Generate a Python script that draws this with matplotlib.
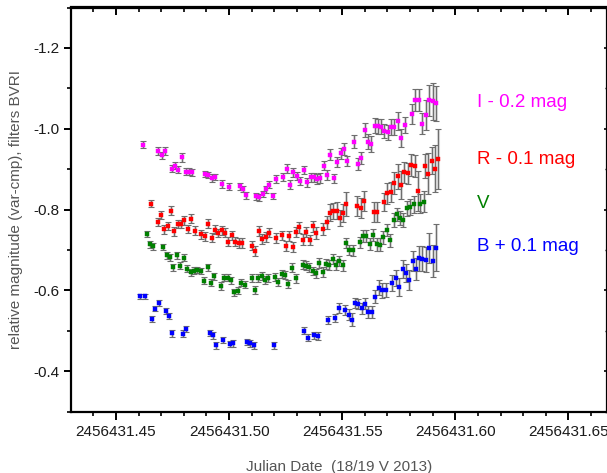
import matplotlib
matplotlib.use("Agg")
import matplotlib.pyplot as plt
from matplotlib.ticker import MultipleLocator, FormatStrFormatter, FixedLocator
import numpy as np

plt.rcParams['font.family'] = ['Liberation Sans', 'DejaVu Sans']
plt.rcParams['axes.unicode_minus'] = False

JD0 = 2456431.0

# ---------------- data ----------------
# I - 0.2 mag (magenta)
t_I = [0.4621, 0.4687, 0.4702, 0.4717, 0.4746, 0.4761, 0.4776, 0.4792, 0.4808, 0.4823,
       0.4838, 0.4894, 0.4908, 0.4925, 0.4939, 0.4970, 0.5000, 0.5046, 0.5061, 0.5075,
       0.5119, 0.5134, 0.5149, 0.5164, 0.5178, 0.5195, 0.5209, 0.5240, 0.5255, 0.5270,
       0.5284, 0.5300, 0.5314, 0.5331, 0.5345, 0.5360, 0.5375, 0.5389, 0.5404, 0.5419,
       0.5434, 0.5448, 0.5463, 0.5479, 0.5494, 0.5509, 0.5523, 0.5553, 0.5568, 0.5584,
       0.5599, 0.5614, 0.5628, 0.5643, 0.5658, 0.5673, 0.5687, 0.5702, 0.5717, 0.5731,
       0.5746, 0.5762, 0.5777, 0.5808, 0.5823, 0.5838, 0.5854, 0.5869, 0.5885, 0.5900,
       0.5913]
m_I = [-0.961, -0.945, -0.934, -0.945, -0.901, -0.909, -0.899, -0.929, -0.894, -0.894,
       -0.892, -0.888, -0.886, -0.878, -0.880, -0.863, -0.857, -0.858, -0.851, -0.835,
       -0.833, -0.830, -0.838, -0.850, -0.862, -0.834, -0.876, -0.881, -0.901, -0.862,
       -0.892, -0.884, -0.871, -0.898, -0.868, -0.880, -0.880, -0.875, -0.878, -0.909,
       -0.886, -0.936, -0.877, -0.918, -0.939, -0.950, -0.920, -0.968, -0.912, -0.928,
       -0.997, -0.968, -0.962, -1.008, -1.006, -1.005, -0.995, -0.991, -1.005, -1.004,
       -1.020, -0.977, -1.010, -1.037, -1.071, -1.071, -1.013, -1.034, -1.070, -1.068,
       -1.063]
e_I = [0.008, 0.009, 0.008, 0.009, 0.009, 0.008, 0.009, 0.010, 0.008, 0.008,
       0.008, 0.008, 0.008, 0.009, 0.008, 0.009, 0.009, 0.009, 0.008, 0.009,
       0.009, 0.009, 0.008, 0.009, 0.009, 0.008, 0.010, 0.010, 0.011, 0.010,
       0.011, 0.010, 0.010, 0.011, 0.011, 0.011, 0.011, 0.012, 0.012, 0.012,
       0.012, 0.013, 0.012, 0.013, 0.013, 0.014, 0.013, 0.016, 0.015, 0.015,
       0.018, 0.018, 0.019, 0.019, 0.019, 0.019, 0.018, 0.018, 0.020, 0.020,
       0.022, 0.022, 0.020, 0.025, 0.027, 0.027, 0.027, 0.037, 0.039, 0.046,
       0.044]

# R - 0.1 mag (red)
t_R = [0.4654, 0.4684, 0.4699, 0.4714, 0.4729, 0.4743, 0.4758, 0.4773, 0.4788, 0.4802,
       0.4817, 0.4833, 0.4848, 0.4877, 0.4892, 0.4908, 0.4923, 0.4938, 0.4953, 0.4968,
       0.4982, 0.4997, 0.5012, 0.5027, 0.5043, 0.5058, 0.5102, 0.5116, 0.5131, 0.5146,
       0.5162, 0.5177, 0.5207, 0.5236, 0.5251, 0.5266, 0.5282, 0.5296, 0.5311, 0.5326,
       0.5341, 0.5357, 0.5372, 0.5386, 0.5416, 0.5431, 0.5446, 0.5460, 0.5475, 0.5490,
       0.5504, 0.5519, 0.5565, 0.5581, 0.5596, 0.5640, 0.5655, 0.5686, 0.5700, 0.5716,
       0.5730, 0.5745, 0.5760, 0.5774, 0.5789, 0.5805, 0.5820, 0.5835, 0.5866, 0.5881,
       0.5895, 0.5910, 0.5925]
m_R = [-0.815, -0.769, -0.787, -0.751, -0.760, -0.797, -0.746, -0.765, -0.764, -0.774,
       -0.752, -0.777, -0.748, -0.739, -0.734, -0.765, -0.730, -0.750, -0.742, -0.749,
       -0.743, -0.721, -0.736, -0.721, -0.717, -0.717, -0.711, -0.698, -0.747, -0.728,
       -0.732, -0.743, -0.729, -0.736, -0.710, -0.735, -0.708, -0.744, -0.756, -0.726,
       -0.744, -0.725, -0.759, -0.742, -0.751, -0.769, -0.792, -0.796, -0.797, -0.779,
       -0.791, -0.814, -0.808, -0.803, -0.821, -0.794, -0.795, -0.819, -0.840, -0.844,
       -0.865, -0.882, -0.860, -0.892, -0.890, -0.910, -0.908, -0.846, -0.908, -0.889,
       -0.921, -0.901, -0.925]
e_R = [0.009, 0.010, 0.010, 0.011, 0.010, 0.011, 0.011, 0.010, 0.010, 0.011,
       0.011, 0.011, 0.011, 0.011, 0.011, 0.011, 0.011, 0.011, 0.011, 0.011,
       0.011, 0.011, 0.012, 0.012, 0.012, 0.012, 0.012, 0.012, 0.012, 0.012,
       0.012, 0.012, 0.012, 0.012, 0.012, 0.012, 0.012, 0.013, 0.013, 0.013,
       0.013, 0.013, 0.014, 0.014, 0.015, 0.016, 0.021, 0.020, 0.021, 0.020,
       0.022, 0.029, 0.025, 0.025, 0.025, 0.025, 0.025, 0.023, 0.025, 0.025,
       0.027, 0.030, 0.035, 0.026, 0.026, 0.027, 0.027, 0.050, 0.029, 0.050,
       0.033, 0.058, 0.074]

# V (green)
t_V = [0.4636, 0.4650, 0.4665, 0.4709, 0.4725, 0.4740, 0.4754, 0.4769, 0.4785, 0.4800,
       0.4815, 0.4830, 0.4844, 0.4859, 0.4875, 0.4891, 0.4906, 0.4921, 0.4935, 0.4965,
       0.4979, 0.4994, 0.5009, 0.5023, 0.5038, 0.5054, 0.5069, 0.5100, 0.5114, 0.5129,
       0.5145, 0.5159, 0.5174, 0.5204, 0.5218, 0.5233, 0.5248, 0.5262, 0.5280, 0.5294,
       0.5325, 0.5341, 0.5355, 0.5370, 0.5384, 0.5399, 0.5414, 0.5428, 0.5443, 0.5458,
       0.5473, 0.5488, 0.5502, 0.5517, 0.5532, 0.5547, 0.5577, 0.5592, 0.5606, 0.5623,
       0.5637, 0.5652, 0.5667, 0.5681, 0.5696, 0.5712, 0.5727, 0.5742, 0.5757, 0.5771,
       0.5787, 0.5802, 0.5816, 0.5845, 0.5861]
m_V = [-0.739, -0.714, -0.709, -0.708, -0.687, -0.682, -0.657, -0.687, -0.661, -0.681,
       -0.654, -0.645, -0.649, -0.650, -0.648, -0.624, -0.657, -0.619, -0.635, -0.611,
       -0.632, -0.632, -0.625, -0.595, -0.599, -0.619, -0.614, -0.631, -0.600, -0.630,
       -0.635, -0.626, -0.630, -0.633, -0.620, -0.641, -0.639, -0.616, -0.656, -0.630,
       -0.664, -0.661, -0.657, -0.648, -0.642, -0.668, -0.646, -0.666, -0.663, -0.678,
       -0.663, -0.673, -0.662, -0.717, -0.700, -0.699, -0.719, -0.735, -0.735, -0.715,
       -0.738, -0.714, -0.713, -0.731, -0.749, -0.724, -0.774, -0.788, -0.779, -0.774,
       -0.803, -0.807, -0.813, -0.815, -0.820]
e_V = [0.007, 0.008, 0.008, 0.008, 0.008, 0.008, 0.009, 0.008, 0.009, 0.008,
       0.009, 0.009, 0.008, 0.008, 0.008, 0.009, 0.009, 0.009, 0.009, 0.009,
       0.009, 0.009, 0.009, 0.009, 0.009, 0.009, 0.009, 0.009, 0.010, 0.010,
       0.010, 0.010, 0.010, 0.010, 0.010, 0.010, 0.010, 0.010, 0.011, 0.011,
       0.011, 0.011, 0.011, 0.011, 0.012, 0.012, 0.012, 0.012, 0.012, 0.013,
       0.013, 0.013, 0.013, 0.012, 0.013, 0.013, 0.014, 0.015, 0.015, 0.015,
       0.015, 0.016, 0.016, 0.016, 0.015, 0.016, 0.017, 0.017, 0.018, 0.018,
       0.019, 0.020, 0.021, 0.023, 0.027]

# B + 0.1 mag (blue)
t_B = [0.4606, 0.4628, 0.4659, 0.4674, 0.4689, 0.4720, 0.4734, 0.4749, 0.4795, 0.4810,
       0.4915, 0.4929, 0.4944, 0.4975, 0.5004, 0.5019, 0.5078, 0.5093, 0.5108, 0.5199,
       0.5333, 0.5348, 0.5377, 0.5392, 0.5438, 0.5469, 0.5484, 0.5513, 0.5528, 0.5543,
       0.5558, 0.5572, 0.5587, 0.5602, 0.5616, 0.5631, 0.5647, 0.5662, 0.5677, 0.5692,
       0.5721, 0.5736, 0.5751, 0.5767, 0.5782, 0.5797, 0.5811, 0.5826, 0.5841, 0.5855,
       0.5870, 0.5885, 0.5901, 0.5916]
m_B = [-0.586, -0.586, -0.530, -0.555, -0.569, -0.549, -0.536, -0.494, -0.493, -0.504,
       -0.495, -0.489, -0.464, -0.478, -0.468, -0.469, -0.473, -0.469, -0.464, -0.464,
       -0.500, -0.483, -0.489, -0.487, -0.527, -0.532, -0.556, -0.551, -0.540, -0.527,
       -0.569, -0.566, -0.556, -0.567, -0.546, -0.547, -0.584, -0.607, -0.600, -0.601,
       -0.618, -0.631, -0.608, -0.653, -0.643, -0.626, -0.673, -0.653, -0.680, -0.679,
       -0.676, -0.706, -0.673, -0.706]
e_B = [0.006, 0.006, 0.007, 0.007, 0.007, 0.007, 0.007, 0.008, 0.008, 0.008,
       0.008, 0.008, 0.008, 0.008, 0.008, 0.008, 0.008, 0.008, 0.008, 0.008,
       0.009, 0.009, 0.009, 0.009, 0.010, 0.010, 0.012, 0.012, 0.013, 0.016,
       0.012, 0.013, 0.014, 0.014, 0.015, 0.015, 0.016, 0.019, 0.018, 0.018,
       0.019, 0.020, 0.022, 0.022, 0.023, 0.024, 0.025, 0.028, 0.031, 0.031,
       0.031, 0.037, 0.040, 0.058]

series_labels = ["I - 0.2 mag", "R - 0.1 mag", "V", "B + 0.1 mag"]
series_colors = ["#ff00ff", "#ff0000", "#008000", "#0000ff"]
label_y = [-1.064, -0.923, -0.816, -0.708]
label_x = 0.6097

xticks_major = [2456431.45, 2456431.50, 2456431.55, 2456431.60, 2456431.65]
yticks_major = [-1.2, -1.0, -0.8, -0.6, -0.4]
x_limits = (2456431.4301, 2456431.6673)
y_limits = (-0.30, -1.30)

# ---------------- plot ----------------
fig = plt.figure(figsize=(6.07, 4.73), dpi=100)
ax = fig.add_axes([71/607, 1 - 411.7/473, (607.5 - 71)/607, (411.7 - 7.5)/473])

data = [(t_I, m_I, e_I), (t_R, m_R, e_R), (t_V, m_V, e_V), (t_B, m_B, e_B)]
for (t, m, e), col in zip(data, series_colors):
    x = JD0 + np.asarray(t)
    ax.errorbar(x, m, yerr=e, fmt='none', ecolor='#d9d9d9', elinewidth=2.2,
                capsize=0, zorder=1)
    ax.errorbar(x, m, yerr=e, fmt='none', ecolor='#6e6e6e', elinewidth=0.8,
                capsize=2.2, capthick=0.8, zorder=2)
    ax.plot(x, m, linestyle='none', marker='s', markersize=2.8,
            markerfacecolor=col, markeredgecolor=col, markeredgewidth=0.3, zorder=3)

for lab, col, yy in zip(series_labels, series_colors, label_y):
    ax.text(JD0 + label_x, yy, lab, color=col, fontsize=13.5, ha='left', va='center')

ax.set_xlim(*x_limits)
ax.set_ylim(*y_limits)

ax.xaxis.set_major_locator(FixedLocator(xticks_major))
ax.xaxis.set_major_formatter(FormatStrFormatter('%.2f'))
ax.xaxis.set_minor_locator(MultipleLocator(0.01))
ax.yaxis.set_major_locator(FixedLocator(yticks_major))
ax.yaxis.set_major_formatter(FormatStrFormatter('%.1f'))
ax.yaxis.set_minor_locator(MultipleLocator(0.1))

for s in ax.spines.values():
    s.set_linewidth(1.6)

ax.tick_params(axis='x', which='major', direction='out', length=6, width=1.4,
               labelsize=11, labelcolor='#1a1a1a', pad=3.5)
ax.tick_params(axis='x', which='minor', direction='out', length=3, width=1.2)
ax.tick_params(axis='y', which='major', direction='out', length=5, width=1.4,
               labelsize=11, labelcolor='#1a1a1a', pad=3)
ax.tick_params(axis='y', which='minor', direction='out', length=3, width=1.2)

# mirrored axes with inward ticks (top / right)
secx = ax.secondary_xaxis('top')
secx.xaxis.set_major_locator(FixedLocator(xticks_major))
secx.xaxis.set_minor_locator(MultipleLocator(0.01))
secx.tick_params(axis='x', which='major', direction='in', length=6, width=1.4, labeltop=False)
secx.tick_params(axis='x', which='minor', direction='in', length=3.5, width=1.2)
secx.spines['top'].set_linewidth(1.6)

secy = ax.secondary_yaxis('right')
secy.yaxis.set_major_locator(FixedLocator(yticks_major))
secy.yaxis.set_minor_locator(MultipleLocator(0.1))
secy.tick_params(axis='y', which='major', direction='in', length=3, width=1.2, labelright=False)
secy.tick_params(axis='y', which='minor', direction='in', length=2, width=1.0)

ax.set_xlabel("Julian Date  (18/19 V 2013)", fontsize=11, color='#555555', labelpad=15)
ax.set_ylabel("relative magnitude (var-cmp), filters BVRI", fontsize=11,
              color='#555555', labelpad=8)

fig.savefig("out.png", dpi=100)
